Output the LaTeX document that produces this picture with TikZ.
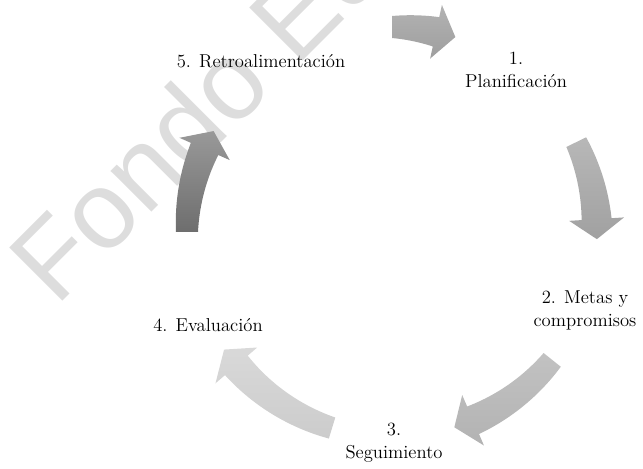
\documentclass[tikz,border=0pt]{standalone}
\usepackage{fontspec}
\newfontfamily\wmfont{Liberation Sans}
\usetikzlibrary{positioning}

\definecolor{wmgray}{HTML}{DDDDDD}

% curved block arrow on the cycle: tail angle, tip angle, shading
\newcommand{\carrow}[3]{
    \pgfmathsetmacro{\hb}{#2+5.6}
    \shade[#3] plot[domain=#1:\hb, samples=25] (\x:{205+11+4*(\x-#1)/(\hb-#1)})
        -- (\hb:232.5) -- (#2:205) -- (\hb:177.5)
        -- plot[domain=\hb:#1, samples=25] (\x:{205-11-4*(\x-#1)/(\hb-#1)}) -- cycle;
}

\begin{document}
\begin{tikzpicture}[
        x=0.75pt,
        y=0.75pt,
        every node/.style={font=\fontsize{14}{17.25}\selectfont, align=center, inner sep=0pt},
        watermark/.style={font=\wmfont\fontsize{82}{82}\selectfont, text=wmgray, rotate=45, anchor=base west}
    ]
    \useasboundingbox (0,0) rectangle (643,468);
    \begin{scope}
        \clip (0,0) rectangle (643,468);
        \node[watermark] (wm) at (56,160) {Fondo Ed};
    \end{scope}

    \coordinate (c) at (392,236);

    \begin{scope}[shift={(c)}]
        \carrow{90}{72}{top color=black!30, bottom color=black!38}
        \carrow{26}{-2}{top color=black!28, bottom color=black!37}
        \carrow{-38.6}{-72.3}{top color=black!24, bottom color=black!30}
        \carrow{-107}{-145}{top color=black!15, bottom color=black!20}
        \carrow{180}{150.5}{top color=black!40, bottom color=black!57}
    \end{scope}

    \node (retro) at (261,407) {5. Retroalimentación};
    \node (plan) at (516,398) {1.\\Planificación};
    \node (metas) at (585,158) {2. Metas y\\compromisos};
    \node (segui) at (394,25) {3.\\Seguimiento};
    \node (eval) at (208,143) {4. Evaluación};
\end{tikzpicture}
\end{document}
